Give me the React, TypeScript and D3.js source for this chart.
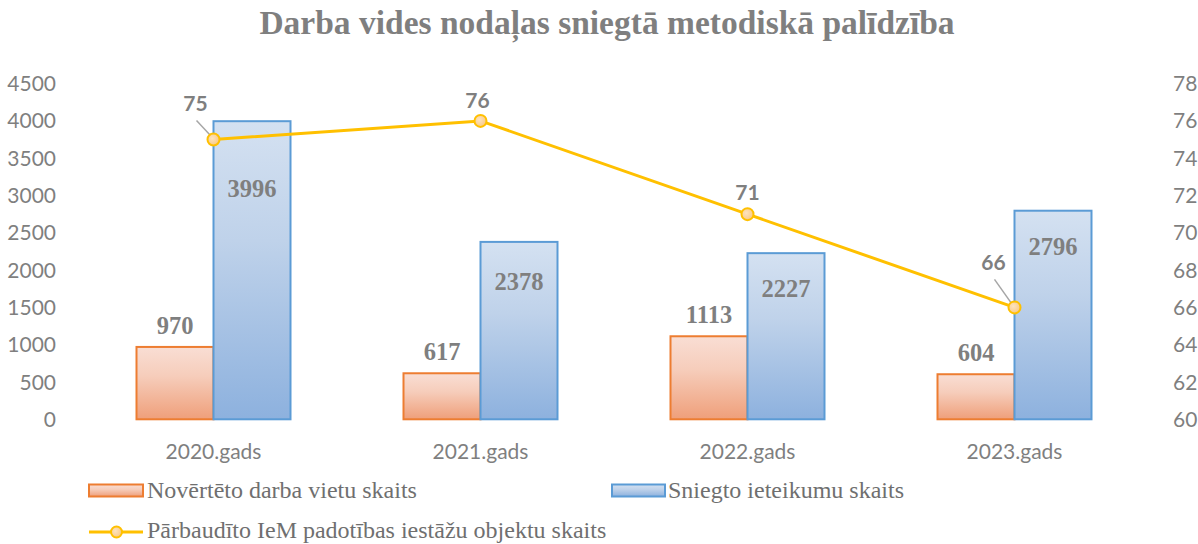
import React from "react";
import * as d3 from "d3";

const categories = ["2020.gads", "2021.gads", "2022.gads", "2023.gads"];
const assessedWorkplaces = [970, 617, 1113, 604];
const recommendations = [3996, 2378, 2227, 2796];
const inspectedObjects = [75, 76, 71, 66];
const leftTicks = [0, 500, 1000, 1500, 2000, 2500, 3000, 3500, 4000, 4500];
const rightTicks = [60, 62, 64, 66, 68, 70, 72, 74, 76, 78];
const seriesNames = [
  "Novērtēto darba vietu skaits",
  "Sniegto ieteikumu skaits",
  "Pārbaudīto IeM padotības iestāžu objektu skaits",
];
// manual label placement offsets (px), as in the original chart
const blueLabelDy = [67, 40, 35, 36];
const lineLabelOffset: [number, number][] = [
  [-18, -36],
  [-3, -20],
  [0, -22],
  [-21, -45],
];

const W = 1198;
const H = 544;
const sans = "Lato, 'Open Sans', sans-serif";
const serif = "'Liberation Serif', 'Times New Roman', serif";

export default function App() {
  const x = d3.scaleBand<string>().domain(categories).range([80, 1148]);
  const yL = d3.scaleLinear().domain([0, 4500]).range([419.3, 83.6]);
  const yR = d3.scaleLinear().domain([60, 78]).range([419.3, 83.6]);
  const barW = 77;
  const cx = (c: string) => (x(c) as number) + x.bandwidth() / 2;

  const linePath = d3
    .line<number>()
    .x((_, i) => cx(categories[i]))
    .y((d) => yR(d))(inspectedObjects) as string;

  return (
    <svg
      width={W}
      height={H}
      style={{ position: "absolute", left: 0, top: 0, background: "#fff" }}
    >
      <defs>
        <linearGradient id="gOrange" x1="0" y1="0" x2="0" y2="1">
          <stop offset="0" stopColor="#f9ded4" />
          <stop offset="0.4" stopColor="#f6cdbb" />
          <stop offset="1" stopColor="#ef9f7a" />
        </linearGradient>
        <linearGradient id="gBlue" x1="0" y1="0" x2="0" y2="1">
          <stop offset="0" stopColor="#d4e1f1" />
          <stop offset="0.4" stopColor="#bfd2ea" />
          <stop offset="1" stopColor="#8db1de" />
        </linearGradient>
        <radialGradient id="gMarker" cx="0.4" cy="0.4" r="0.7">
          <stop offset="0" stopColor="#fde3bf" />
          <stop offset="1" stopColor="#f9c67e" />
        </radialGradient>
      </defs>

      <text
        x={607}
        y={34}
        textAnchor="middle"
        fontFamily={serif}
        fontWeight="bold"
        fontSize={33.5}
        fill="#7f7f7f"
      >
        Darba vides nodaļas sniegtā metodiskā palīdzība
      </text>

      {leftTicks.map((t) => (
        <text
          key={"l" + t}
          x={56}
          y={yL(t)}
          dy="0.36em"
          textAnchor="end"
          fontFamily={sans}
          fontSize={21}
          fill="#7f7f7f"
        >
          {t}
        </text>
      ))}
      {rightTicks.map((t) => (
        <text
          key={"r" + t}
          x={1173}
          y={yR(t)}
          dy="0.36em"
          textAnchor="start"
          fontFamily={sans}
          fontSize={21}
          fill="#7f7f7f"
        >
          {t}
        </text>
      ))}
      {categories.map((c) => (
        <text
          key={"c" + c}
          x={cx(c)}
          y={451}
          dy="0.36em"
          textAnchor="middle"
          fontFamily={sans}
          fontSize={21}
          fill="#7f7f7f"
        >
          {c}
        </text>
      ))}

      {categories.map((c, i) => (
        <g key={"b" + c}>
          <rect
            x={cx(c) - barW}
            y={yL(assessedWorkplaces[i])}
            width={barW}
            height={yL(0) - yL(assessedWorkplaces[i])}
            fill="url(#gOrange)"
            stroke="#ed7d31"
            strokeWidth={2}
          />
          <rect
            x={cx(c)}
            y={yL(recommendations[i])}
            width={barW}
            height={yL(0) - yL(recommendations[i])}
            fill="url(#gBlue)"
            stroke="#5b9bd5"
            strokeWidth={2}
          />
          <text
            x={cx(c) - barW / 2}
            y={yL(assessedWorkplaces[i]) - 22}
            dy="0.35em"
            textAnchor="middle"
            fontFamily={serif}
            fontWeight="bold"
            fontSize={24.5}
            fill="#7f7f7f"
          >
            {assessedWorkplaces[i]}
          </text>
          <text
            x={cx(c) + barW / 2}
            y={yL(recommendations[i]) + blueLabelDy[i]}
            dy="0.35em"
            textAnchor="middle"
            fontFamily={serif}
            fontWeight="bold"
            fontSize={24.5}
            fill="#7f7f7f"
          >
            {recommendations[i]}
          </text>
        </g>
      ))}

      <path d={linePath} fill="none" stroke="#ffc000" strokeWidth={3} />
      {categories.map((c, i) => {
        const px = cx(c);
        const py = yR(inspectedObjects[i]);
        const [ox, oy] = lineLabelOffset[i];
        const hasLeader = Math.abs(ox) > 10;
        return (
          <g key={"p" + c}>
            {hasLeader && (
              <line
                x1={px + ox + (ox < 0 ? 1 : 0)}
                y1={py + oy + 17}
                x2={px - 3}
                y2={py - 4}
                stroke="#a6a6a6"
                strokeWidth={1.5}
              />
            )}
            <circle
              cx={px}
              cy={py}
              r={6}
              fill="url(#gMarker)"
              stroke="#ffc000"
              strokeWidth={2}
            />
            <text
              x={px + ox}
              y={py + oy}
              dy="0.36em"
              textAnchor="middle"
              fontFamily={sans}
              fontWeight="bold"
              fontSize={21}
              fill="#7f7f7f"
            >
              {inspectedObjects[i]}
            </text>
          </g>
        );
      })}

      {/* legend */}
      <rect x={89} y={484.5} width={54} height={12} fill="url(#gOrange)" stroke="#ed7d31" strokeWidth={2} />
      <text x={147} y={498} fontFamily={serif} fontSize={24} fill="#6f6f6f">
        {seriesNames[0]}
      </text>
      <rect x={612} y={484.5} width={53} height={12} fill="url(#gBlue)" stroke="#5b9bd5" strokeWidth={2} />
      <text x={668} y={498} fontFamily={serif} fontSize={24} fill="#6f6f6f">
        {seriesNames[1]}
      </text>
      <line x1={89} y1={532} x2={143} y2={532} stroke="#ffc000" strokeWidth={3} />
      <circle cx={116.5} cy={532} r={5.5} fill="url(#gMarker)" stroke="#ffc000" strokeWidth={2} />
      <text x={147} y={538} fontFamily={serif} fontSize={24} fill="#6f6f6f">
        {seriesNames[2]}
      </text>
    </svg>
  );
}
